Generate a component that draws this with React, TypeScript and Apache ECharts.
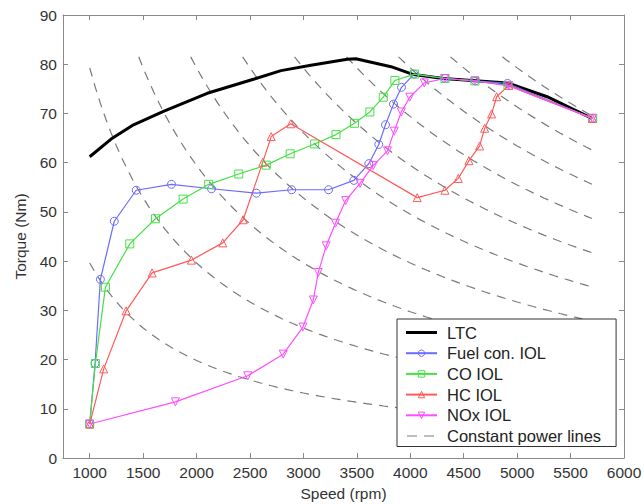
import React, { useEffect, useRef } from "react";
import * as echarts from "echarts";

// Tick labels
const speedTicks = [1000, 1500, 2000, 2500, 3000, 3500, 4000, 4500, 5000, 5500, 6000];

// LTC (black)
const ltcSpeed = [1000, 1200, 1410, 1690, 2100, 2540, 2790, 3070, 3410, 3490, 3820, 4030, 4310, 4910, 5280, 5700];
const ltcTorque = [61.2, 64.8, 67.7, 70.4, 74.1, 77.0, 78.7, 79.8, 81.0, 81.1, 79.5, 77.9, 77.1, 76.2, 73.4, 69.0];

// Fuel con. IOL (blue circles)
const fuelSpeed = [1000, 1050, 1100, 1230, 1435, 1765, 2140, 2560, 2890, 3235, 3472, 3612, 3705, 3768, 3843, 3918, 4035, 4327, 4608, 4910, 5704];
const fuelTorque = [6.9, 19.2, 36.3, 48.1, 54.4, 55.6, 54.7, 53.8, 54.5, 54.5, 56.4, 59.8, 63.7, 67.7, 71.9, 75.3, 78.0, 77.1, 76.6, 76.1, 69.0];

// CO IOL (green squares)
const coSpeed = [1000, 1053, 1147, 1375, 1615, 1874, 2114, 2395, 2652, 2876, 3105, 3305, 3478, 3622, 3747, 3856, 4040, 4324, 4605, 4914, 5707];
const coTorque = [6.9, 19.2, 34.7, 43.5, 48.6, 52.6, 55.6, 57.7, 59.5, 61.8, 63.8, 65.7, 68.0, 70.3, 73.3, 76.7, 78.0, 77.1, 76.6, 75.7, 69.0];

// HC IOL (red triangles)
const hcSpeed = [1000, 1131, 1341, 1584, 1952, 2245, 2436, 2620, 2698, 2881, 4065, 4324, 4449, 4549, 4649, 4696, 4761, 4808, 4923, 5704];
const hcTorque = [6.9, 18.1, 29.9, 37.6, 40.2, 43.7, 48.4, 60.1, 65.3, 67.9, 52.9, 54.4, 56.8, 60.4, 63.4, 67.0, 69.9, 73.4, 75.7, 69.0];

// NOx IOL (magenta down-triangles)
const noxSpeed = [1000, 1802, 2479, 2811, 2995, 3092, 3139, 3213, 3300, 3395, 3530, 3653, 3787, 3850, 3916, 3995, 4131, 4324, 4605, 4923, 5704];
const noxTorque = [6.9, 11.4, 16.7, 21.1, 26.6, 32.1, 37.7, 43.1, 47.7, 52.3, 55.8, 59.4, 62.4, 66.4, 70.3, 73.3, 76.2, 77.1, 76.6, 75.6, 69.0];

// Constant power lines (kW), drawn as T = 9549 * P / n
const powerLevels = [4.15, 8.3, 12.45, 16.6, 20.75, 24.9, 29.05, 33.2, 37.35, 41.5];
const powerLineSpeedRange = [1000, 5700];
const powerLineTorqueMax = 81.5;

const zip = (a: number[], b: number[]) => a.map((v, i) => [v, b[i]]);

function powerCurve(p: number): number[][] {
  const k = 9549 * p;
  const start = Math.max(powerLineSpeedRange[0], k / powerLineTorqueMax);
  const pts: number[][] = [[start, k / start]];
  for (let n = Math.ceil(start / 50) * 50; n <= powerLineSpeedRange[1]; n += 50) {
    if (n > start) pts.push([n, k / n]);
  }
  return pts;
}

const FONT = "'Liberation Sans', Arial, Helvetica, sans-serif";
const AXIS_COLOR = "#8a8a8a";
const LABEL_COLOR = "#333333";

const COLORS = { fuel: "#6b6bff", co: "#46e046", hc: "#ff5a5a", nox: "#ff4dff" };

// legend icons (tiny corner squares fix the icon box to 31x8)
const BOX = "M0,0h0.01v0.01h-0.01Z M0,7.99h0.01v0.01h-0.01Z M30.99,0h0.01v0.01h-0.01Z ";
const LTC_ICON = "path://" + BOX + "M0,2.6H31V5.4H0Z";
const DASH_ICON = "path://" + BOX + "M1,3.4H11V4.6H1Z M18,3.4H28V4.6H18Z";

const hollow = (c: string) => ({ color: "rgba(255,255,255,0)", borderColor: c, borderWidth: 1 });

export default function App() {
  const ref = useRef<HTMLDivElement>(null);
  useEffect(() => {
    if (!ref.current) return;
    const chart = echarts.init(ref.current, null, { renderer: "svg" });

    const powerSeries = powerLevels.map((p) => ({
      name: "Constant power lines",
      type: "line",
      data: powerCurve(p),
      showSymbol: false,
      symbol: "none",
      lineStyle: { color: "#7a7a7a", width: 1.2, type: [9, 7] },
      itemStyle: { color: "#7a7a7a" },
      silent: true,
      z: 1,
    }));

    const marked = (name: string, sp: number[], tq: number[], color: string, symbol: string, rotate = 0) => ({
      name,
      type: "line",
      data: zip(sp, tq),
      symbol,
      symbolSize: 8,
      symbolRotate: rotate,
      showAllSymbol: true,
      lineStyle: { color, width: 1.2 },
      itemStyle: hollow(color),
      z: 3,
    });

    const xCommon = {
      type: "value",
      min: 750,
      max: 6000,
      splitLine: { show: false },
      axisLine: { show: true, onZero: false, lineStyle: { color: AXIS_COLOR, width: 1 } },
      axisTick: { show: true, inside: true, length: 5, customValues: speedTicks, lineStyle: { color: AXIS_COLOR } },
    };
    const yCommon = {
      type: "value",
      min: 0,
      max: 90,
      interval: 10,
      splitLine: { show: false },
      axisLine: { show: true, onZero: false, lineStyle: { color: AXIS_COLOR, width: 1 } },
      axisTick: { show: true, inside: true, length: 5, lineStyle: { color: AXIS_COLOR } },
    };

    chart.setOption({
      animation: false,
      backgroundColor: "#ffffff",
      textStyle: { fontFamily: FONT },
      grid: { left: 63, top: 15, right: 20, bottom: 46, containLabel: false, outerBoundsMode: "none" },
      xAxis: [
        {
          ...xCommon,
          position: "bottom",
          name: "Speed (rpm)",
          nameLocation: "middle",
          nameGap: 27,
          nameTextStyle: { fontSize: 15.5, color: LABEL_COLOR, fontFamily: FONT },
          axisLabel: {
            show: true,
            customValues: speedTicks,
            formatter: (v: number) => String(v),
            fontSize: 15.5,
            color: LABEL_COLOR,
            margin: 6,
            fontFamily: FONT,
          },
        },
        { ...xCommon, position: "top", axisLabel: { show: false } },
      ],
      yAxis: [
        {
          ...yCommon,
          position: "left",
          name: "Torque (Nm)",
          nameLocation: "middle",
          nameGap: 33,
          nameTextStyle: { fontSize: 15.5, color: LABEL_COLOR, fontFamily: FONT },
          axisLabel: { show: true, fontSize: 15.5, color: LABEL_COLOR, margin: 6, fontFamily: FONT },
        },
        { ...yCommon, position: "right", axisLabel: { show: false } },
      ],
      legend: {
        left: 397,
        top: 319,
        orient: "vertical",
        backgroundColor: "#ffffff",
        borderColor: "#333333",
        borderWidth: 1,
        borderRadius: 0,
        padding: [5, 15, 2, 8],
        itemWidth: 31,
        itemHeight: 8,
        itemGap: 3.7,
        textStyle: { fontSize: 16.5, color: "#222222", fontFamily: FONT, lineHeight: 17, padding: [0, 0, 0, 5] },
        data: [
          { name: "LTC", icon: LTC_ICON },
          { name: "Fuel con. IOL", itemStyle: hollow(COLORS.fuel) },
          { name: "CO IOL", itemStyle: hollow(COLORS.co) },
          { name: "HC IOL", itemStyle: hollow(COLORS.hc) },
          { name: "NOx IOL", itemStyle: hollow(COLORS.nox) },
          { name: "Constant power lines", icon: DASH_ICON },
        ],
        z: 10,
      },
      series: [
        ...powerSeries,
        {
          name: "LTC",
          type: "line",
          data: zip(ltcSpeed, ltcTorque),
          symbol: "none",
          showSymbol: false,
          lineStyle: { color: "#000000", width: 3 },
          itemStyle: { color: "#000000" },
          z: 2,
        },
        marked("Fuel con. IOL", fuelSpeed, fuelTorque, COLORS.fuel, "circle"),
        marked("CO IOL", coSpeed, coTorque, COLORS.co, "rect"),
        marked("HC IOL", hcSpeed, hcTorque, COLORS.hc, "triangle"),
        marked("NOx IOL", noxSpeed, noxTorque, COLORS.nox, "triangle", 180),
      ],
    });
    return () => chart.dispose();
  }, []);
  return <div ref={ref} style={{ position: "fixed", left: 0, top: 0, width: 644, height: 504 }} />;
}
